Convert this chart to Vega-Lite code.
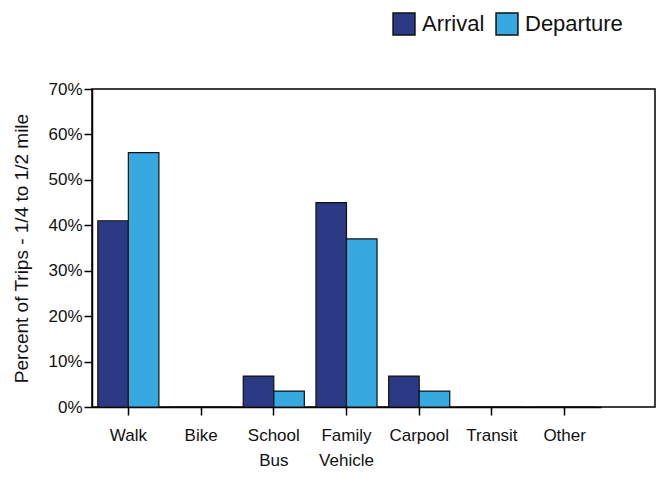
{
  "$schema": "https://vega.github.io/schema/vega-lite/v6.json",
  "width": 563,
  "height": 318,
  "autosize": {"type": "none"},
  "padding": {"left": 92, "top": 89, "right": 5, "bottom": 70},
  "background": "white",
  "config": {
    "font": "Liberation Sans",
    "view": {"stroke": "black", "strokeWidth": 1.5},
    "axis": {"labelFont": "Liberation Sans", "titleFont": "Liberation Sans", "labelColor": "#111", "titleColor": "#111", "domainColor": "black", "tickColor": "black", "grid": false}
  },
  "data": {
    "values": [
      {"mode": "Walk", "type": "Arrival", "pct": 0.41},
      {"mode": "Walk", "type": "Departure", "pct": 0.56},
      {"mode": "Bike", "type": "Arrival", "pct": 0},
      {"mode": "Bike", "type": "Departure", "pct": 0},
      {"mode": "School Bus", "type": "Arrival", "pct": 0.068},
      {"mode": "School Bus", "type": "Departure", "pct": 0.035},
      {"mode": "Family Vehicle", "type": "Arrival", "pct": 0.45},
      {"mode": "Family Vehicle", "type": "Departure", "pct": 0.37},
      {"mode": "Carpool", "type": "Arrival", "pct": 0.068},
      {"mode": "Carpool", "type": "Departure", "pct": 0.035},
      {"mode": "Transit", "type": "Arrival", "pct": 0},
      {"mode": "Transit", "type": "Departure", "pct": 0},
      {"mode": "Other", "type": "Arrival", "pct": 0},
      {"mode": "Other", "type": "Departure", "pct": 0}
    ]
  },
  "mark": {"type": "bar", "stroke": "#111", "strokeWidth": 1.2},
  "encoding": {
    "x": {
      "field": "mode",
      "type": "nominal",
      "sort": null,
      "scale": {"range": [0, 509], "paddingInner": 0.16, "paddingOuter": 0.08},
      "axis": {
        "title": null,
        "labelAngle": 0,
        "labelFontSize": 17,
        "labelPadding": 12,
        "tickSize": 8,
        "tickWidth": 1.5,
        "domain": true,
        "domainWidth": 1.5,
        "labelExpr": "split(datum.label, ' ')",
        "labelLineHeight": 25
      }
    },
    "xOffset": {"field": "type", "type": "nominal", "sort": ["Arrival", "Departure"]},
    "y": {
      "field": "pct",
      "type": "quantitative",
      "scale": {"domain": [0, 0.7], "nice": false},
      "axis": {
        "title": "Percent of Trips - 1/4 to 1/2 mile",
        "titleFontSize": 19,
        "titleFontWeight": "normal",
        "titlePadding": 16,
        "format": ".0%",
        "values": [0, 0.1, 0.2, 0.3, 0.4, 0.5, 0.6, 0.7],
        "labelFontSize": 17,
        "labelPadding": 2,
        "tickSize": 8,
        "tickWidth": 1.5,
        "domainWidth": 1.5
      }
    },
    "color": {
      "field": "type",
      "type": "nominal",
      "scale": {"domain": ["Arrival", "Departure"], "range": ["#2c3a86", "#35a9e0"]},
      "legend": {
        "title": null,
        "orient": "none",
        "direction": "horizontal",
        "legendX": 300,
        "legendY": -77,
        "symbolType": "square",
        "symbolSize": 480,
        "symbolStrokeColor": "#111",
        "symbolStrokeWidth": 1.5,
        "labelFontSize": 22,
        "labelColor": "#111",
        "labelOffset": 6,
        "columnPadding": 8
      }
    }
  }
}
